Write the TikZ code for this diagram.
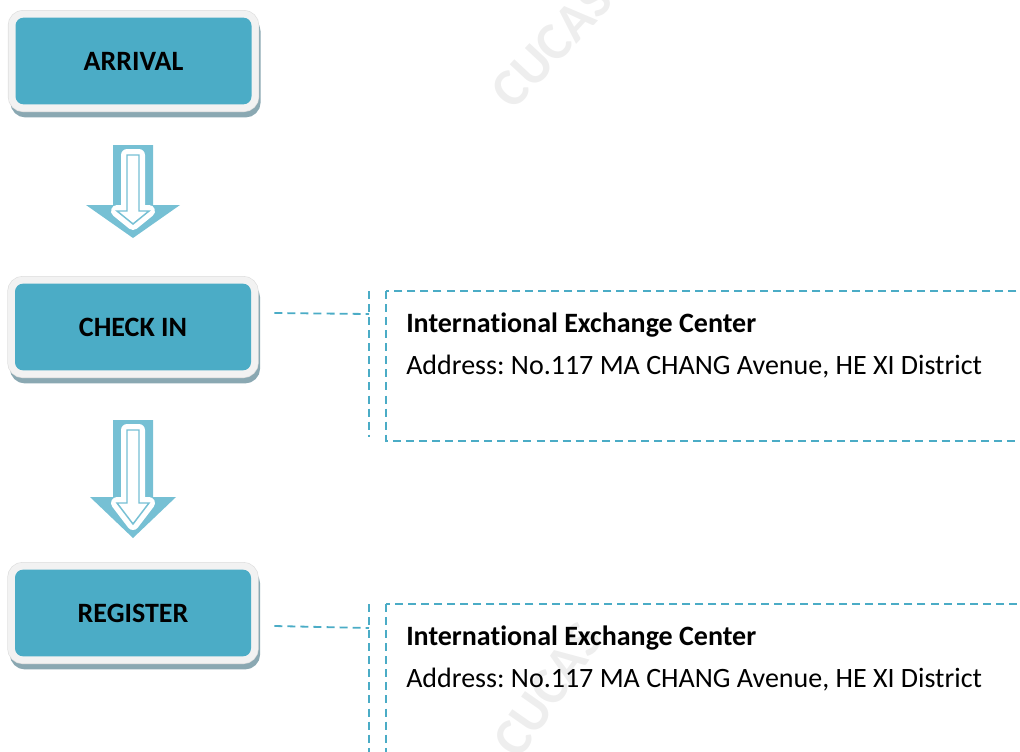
\documentclass[tikz,border=0pt]{standalone}
\usepackage{
	fontspec,			% Fonts
	xcolor,				% Colours
	tikz
}
\setmainfont{Carlito}[Ligatures=NoCommon]
\frenchspacing
\usetikzlibrary{positioning,calc}
\definecolor{boxteal}{HTML}{4BACC6}
\definecolor{arrowteal}{RGB}{118,192,212}
\definecolor{framegray}{HTML}{F2F2F2}
\definecolor{frameedge}{RGB}{222,222,222}
\definecolor{shadowteal}{RGB}{138,168,178}
\definecolor{marklight}{RGB}{238,238,238}

\begin{document}
\begin{tikzpicture}[x=0.75pt,y=-0.75pt,
		stepbox/.style={rounded corners=6pt,fill=boxteal,inner sep=0pt,
			minimum width=177pt,minimum height=65pt,
			font=\fontsize{21}{25}\selectfont\bfseries,
			preaction={draw=shadowteal,line width=10.5pt,
				transform canvas={shift={(1.5pt,-4.5pt)}}},
			preaction={draw=frameedge,line width=11.5pt},
			preaction={draw=framegray,line width=10.5pt}},
		dashline/.style={boxteal,line width=1.35pt,dash pattern=on 6pt off 3.8pt},
		infotitle/.style={anchor=base west,inner sep=0pt,font=\fontsize{21}{25}\selectfont\bfseries},
		infotext/.style={anchor=base west,inner sep=0pt,font=\fontsize{21}{25}\selectfont},
		watermark/.style={marklight,font=\fontsize{40}{44}\selectfont\bfseries}]
		\useasboundingbox (0,0) rectangle (1020,751);
		\clip (0,0) rectangle (1020,751);
		% watermarks
		\node[watermark,rotate=47] (mark1) at (552,45) {CUCAS};
		\node[watermark,rotate=55] (mark2) at (548,690) {CUCAS};
		% steps
		\node[stepbox] (arrival) at (133.5,61) {ARRIVAL};
		\node[stepbox] (checkin) at (133,327) {CHECK IN};
		\node[stepbox] (register) at (133,613) {REGISTER};
		% down arrows
		\foreach \ya/\yb/\yc/\wing in {145/205/238/47, 420/497/538/43}{
			\fill[arrowteal] (113,\ya) -- (153,\ya) -- (153,\yb) -- (133+\wing,\yb)
				-- (133,\yc) -- (133-\wing,\yb) -- (113,\yb) -- cycle;
			\draw[arrowteal,line width=1.1pt,fill=white,
				preaction={draw=white,line width=9pt,line join=round}]
				(127,\ya+10) -- (139,\ya+10) -- (139,\yb+6) -- (149,\yb+6)
				-- (133,\yc-14) -- (117,\yb+6) -- (127,\yb+6) -- cycle;
		}
		% check in details
		\coordinate (brk1) at (369,314);
		\draw[dashline] ($(checkin.east)+(23,-14)$) -- (brk1);
		\draw[dashline] (369,291) -- (369,437);
		\draw[dashline] (386,291) rectangle (1100,441);
		\node[infotitle] (title1) at (406,332) {International Exchange Center};
		\node[infotext] (addr1) at (406,374) {Address: No.117 MA CHANG Avenue, HE XI District};
		% register details
		\coordinate (brk2) at (369,628);
		\draw[dashline] ($(register.east)+(23,13)$) -- (brk2);
		\draw[dashline] (369,604) -- (369,760);
		\draw[dashline] (386,604) rectangle (1100,800);
		\node[infotitle] (title2) at (406,645) {International Exchange Center};
		\node[infotext] (addr2) at (406,687) {Address: No.117 MA CHANG Avenue, HE XI District};
	\end{tikzpicture}
\end{document}
